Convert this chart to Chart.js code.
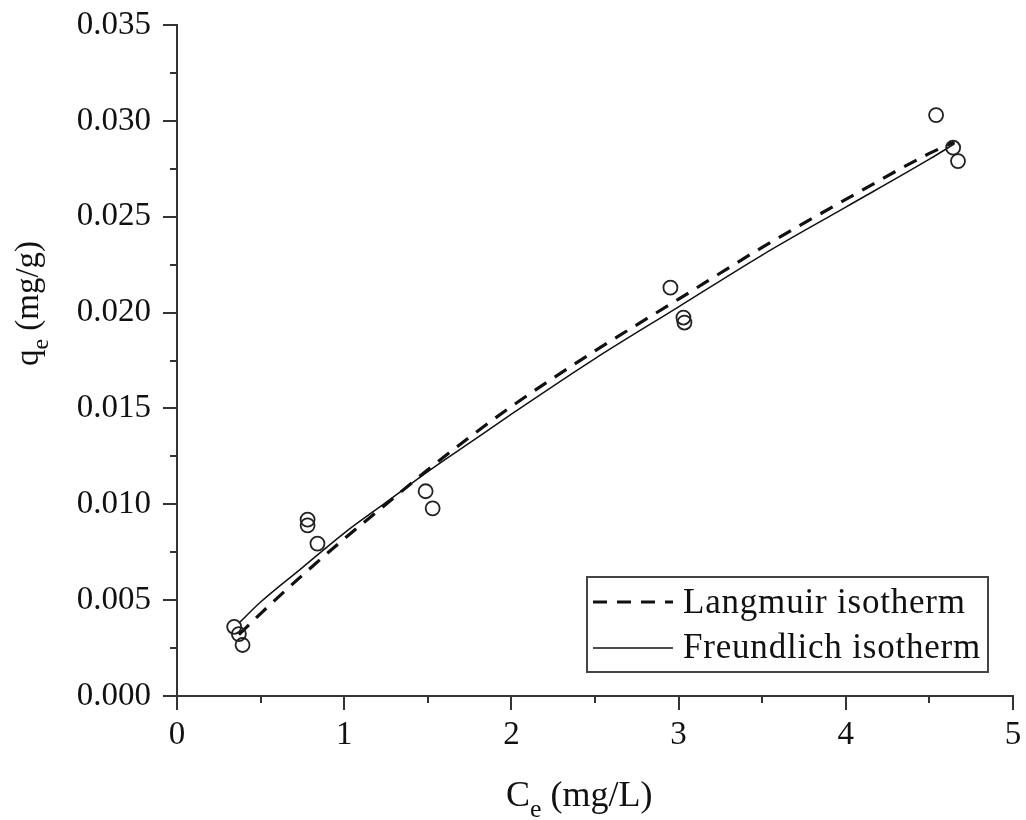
<!DOCTYPE html>
<html>
<head>
<meta charset="utf-8">
<script src="https://cdn.jsdelivr.net/npm/chart.js@4.4.1/dist/chart.umd.min.js"></script>
<style>
  html, body { margin: 0; padding: 0; background: #fff; }
  #wrap { width: 1026px; height: 820px; }
</style>
</head>
<body>
<div id="wrap"><canvas id="c" width="1026" height="820"></canvas></div>
<script>
// ---- data ----
const ceObs = [0.342, 0.370, 0.392, 0.781, 0.781, 0.840, 1.487, 1.529, 2.951, 3.029, 3.035, 4.540, 4.642, 4.671];
const qeObs = [0.00361, 0.00323, 0.00266, 0.00920, 0.00890, 0.00795, 0.01068, 0.00979, 0.02130, 0.01974, 0.01948, 0.03030, 0.02860, 0.02790];

const ceFit = [0.37, 0.5, 0.75, 1.0, 1.25, 1.5, 1.75, 2.0, 2.5, 3.0, 3.5, 4.0, 4.5, 4.65];
const qLangmuir = [0.0032, 0.0043, 0.0063, 0.0082, 0.0100, 0.0118, 0.0135, 0.0151, 0.0180, 0.0207, 0.0234, 0.0259, 0.0283, 0.0289];
const qFreundlich = [0.0038, 0.0049, 0.0067, 0.0085, 0.0101, 0.0117, 0.0132, 0.0147, 0.0176, 0.0203, 0.0230, 0.0255, 0.0280, 0.0288];

const seriesNames = ['Langmuir isotherm', 'Freundlich isotherm'];
const xTicks = [0, 1, 2, 3, 4, 5];
const yTicks = [0, 0.005, 0.010, 0.015, 0.020, 0.025, 0.030, 0.035];
const xMinor = [0.5, 1.5, 2.5, 3.5, 4.5];
const yMinor = [0.0025, 0.0075, 0.0125, 0.0175, 0.0225, 0.0275, 0.0325];

const FONT = '"Liberation Serif", "Times New Roman", serif';
const INK = '#111';
const AXIS = '#333';

function toXY(xs, ys) { return xs.map((x, i) => ({ x: x, y: ys[i] })); }

function drawSubText(ctx, parts, x, y, size) {
  let cx = x;
  parts.forEach(p => {
    const s = p.sub ? size * 0.72 : size;
    ctx.font = s + 'px ' + FONT;
    const dy = p.sub ? size * 0.3 : 0;
    ctx.fillText(p.t, cx, y + dy);
    cx += ctx.measureText(p.t).width;
  });
}

const decorPlugin = {
  id: 'decor',
  afterDraw(chart) {
    const ctx = chart.ctx;
    const xs = chart.scales.x, ys = chart.scales.y;
    const area = chart.chartArea;
    ctx.save();
    // minor ticks
    ctx.strokeStyle = AXIS;
    ctx.lineWidth = 2;
    ctx.beginPath();
    xMinor.forEach(v => {
      const px = Math.round(xs.getPixelForValue(v));
      ctx.moveTo(px, area.bottom);
      ctx.lineTo(px, area.bottom + 7);
    });
    yMinor.forEach(v => {
      const py = Math.round(ys.getPixelForValue(v));
      ctx.moveTo(area.left, py);
      ctx.lineTo(area.left - 7, py);
    });
    ctx.stroke();

    // axis titles
    ctx.fillStyle = INK;
    ctx.textBaseline = 'alphabetic';
    ctx.textAlign = 'left';
    drawSubText(ctx, [{ t: 'C' }, { t: 'e', sub: true }, { t: ' (mg/L)' }], 506, 806, 36);

    ctx.save();
    ctx.translate(38, 366);
    ctx.rotate(-Math.PI / 2);
    drawSubText(ctx, [{ t: 'q' }, { t: 'e', sub: true }, { t: ' (mg/g)' }], 0, 0, 33);
    ctx.restore();

    // legend box
    const bx = 587, by = 577, bw = 401, bh = 95;
    ctx.strokeStyle = '#444';
    ctx.lineWidth = 2;
    ctx.strokeRect(bx, by, bw, bh);
    const rows = [
      { ds: chart.data.datasets[1], y: 602, ty: 613 },
      { ds: chart.data.datasets[2], y: 648, ty: 658 }
    ];
    rows.forEach(r => {
      ctx.beginPath();
      ctx.strokeStyle = r.ds.borderColor;
      ctx.lineWidth = r.ds.borderWidth;
      ctx.setLineDash(r.ds.borderDash || []);
      ctx.moveTo(593, r.y);
      ctx.lineTo(673, r.y);
      ctx.stroke();
      ctx.setLineDash([]);
      ctx.font = '35px ' + FONT;
      if ('letterSpacing' in ctx) ctx.letterSpacing = '0.8px';
      ctx.fillStyle = INK;
      ctx.fillText(r.ds.label, 683, r.ty);
      if ('letterSpacing' in ctx) ctx.letterSpacing = '0px';
    });
    ctx.restore();
  }
};

new Chart(document.getElementById('c'), {
  type: 'scatter',
  data: {
    datasets: [
      {
        label: 'Experimental',
        data: toXY(ceObs, qeObs),
        showLine: false,
        pointStyle: 'circle',
        pointRadius: 7,
        pointBorderWidth: 1.8,
        pointBorderColor: '#222',
        pointBackgroundColor: 'rgba(255,255,255,0)',
        order: 0
      },
      {
        label: seriesNames[0],
        data: toXY(ceFit, qLangmuir),
        showLine: true,
        borderColor: '#111',
        borderWidth: 3.2,
        borderDash: [14, 10],
        pointRadius: 0,
        cubicInterpolationMode: 'monotone',
        order: 1
      },
      {
        label: seriesNames[1],
        data: toXY(ceFit, qFreundlich),
        showLine: true,
        borderColor: '#111',
        borderWidth: 1.5,
        pointRadius: 0,
        cubicInterpolationMode: 'monotone',
        order: 2
      }
    ]
  },
  options: {
    responsive: false,
    animation: false,
    layout: { padding: { top: 25, right: 13, left: 0, bottom: 0 } },
    plugins: { legend: { display: false }, tooltip: { enabled: false } },
    scales: {
      x: {
        type: 'linear',
        min: 0, max: 5,
        afterBuildTicks(s) { s.ticks = xTicks.map(v => ({ value: v })); },
        afterFit(s) { s.height = 124; s.paddingLeft = 0; s.paddingRight = 0; },
        ticks: {
          padding: 6,
          color: INK,
          font: { family: FONT, size: 33 },
          maxRotation: 0,
          callback: v => String(v)
        },
        grid: { drawOnChartArea: false, drawTicks: true, tickLength: 14, color: AXIS, lineWidth: 2 },
        border: { display: true, color: AXIS, width: 2 }
      },
      y: {
        type: 'linear',
        min: 0, max: 0.035,
        afterBuildTicks(s) { s.ticks = yTicks.map(v => ({ value: v })); },
        afterFit(s) { s.width = 177; s.paddingTop = 0; s.paddingBottom = 0; },
        ticks: {
          padding: 12,
          color: INK,
          font: { family: FONT, size: 33 },
          callback: v => Number(v).toFixed(3)
        },
        grid: { drawOnChartArea: false, drawTicks: true, tickLength: 14, color: AXIS, lineWidth: 2 },
        border: { display: true, color: AXIS, width: 2 }
      }
    }
  },
  plugins: [decorPlugin]
});
</script>
</body>
</html>
